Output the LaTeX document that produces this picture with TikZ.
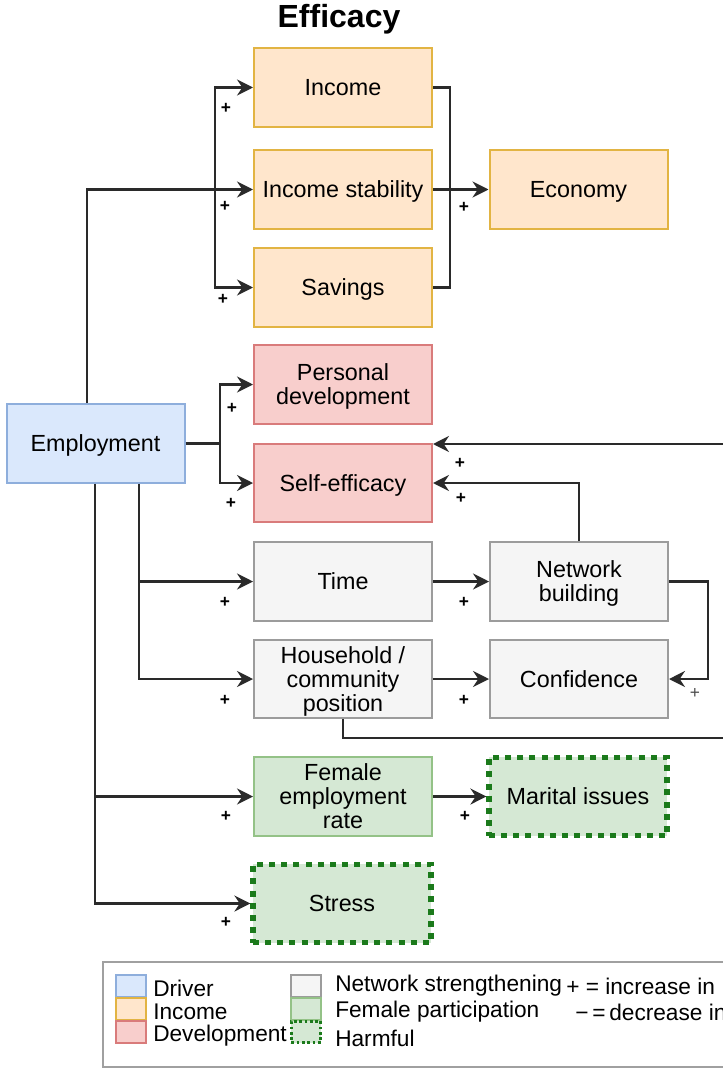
\documentclass[tikz,border=0pt]{standalone}
\usepackage{fontspec}
\setmainfont{Liberation Sans}
\usetikzlibrary{arrows.meta}
\definecolor{driverF}{HTML}{DAE8FC}\definecolor{driverD}{HTML}{8EAEDC}
\definecolor{incomeF}{HTML}{FFE6CC}\definecolor{incomeD}{HTML}{E2B443}
\definecolor{devF}{HTML}{F8CECC}\definecolor{devD}{HTML}{D97B7B}
\definecolor{netF}{HTML}{F5F5F5}\definecolor{netD}{HTML}{9C9C9C}
\definecolor{femF}{HTML}{D5E8D4}\definecolor{femD}{HTML}{94C287}
\definecolor{harmD}{HTML}{1B7A1B}
\definecolor{lineC}{HTML}{2A2A2A}
\definecolor{legD}{HTML}{A0A0A0}
\tikzset{
  box/.style={draw, line width=1.5pt, minimum width=133.5pt, minimum height=59pt,
    align=center, inner sep=2pt, text depth=-2pt, font=\fontsize{17.5}{18}\selectfont},
  driver/.style={box, fill=driverF, draw=driverD},
  income/.style={box, fill=incomeF, draw=incomeD},
  develop/.style={box, fill=devF, draw=devD},
  network/.style={box, fill=netF, draw=netD},
  female/.style={box, fill=femF, draw=femD},
  harmful/.style={box, fill=femF, draw=harmD, line width=3.9pt,
    dash pattern=on 4.5pt off 4.6pt},
  conn/.style={draw=lineC, line width=1.7pt},
  arrow/.style={conn, -{Stealth[length=12pt, width=12pt, inset=4pt]}},
  plus/.style={font=\bfseries\fontsize{13}{14}\selectfont, inner sep=0pt},
  swatch/.style={draw, line width=1.5pt, minimum width=22pt, minimum height=16pt, inner sep=0pt},
  legtext/.style={anchor=west, inner sep=0pt, font=\fontsize{17}{18}\selectfont},
}
\begin{document}
\begin{tikzpicture}[x=0.75pt, y=-0.75pt]
\useasboundingbox (0,0) rectangle (723,1070);
\clip (0,0) rectangle (723,1070);
\fill[white] (0,0) rectangle (723,1070);

% title
\node[font=\bfseries\fontsize{24}{28}\selectfont] (title) at (339,19) {Efficacy};

% boxes
\node[income] (income) at (343,87.5) {Income};
\node[income] (incstab) at (343,189.5) {Income stability};
\node[income] (savings) at (343,287.5) {Savings};
\node[income] (econ) at (578.5,189.5) {Economy};
\node[develop] (pdev) at (343,384.5) {Personal\\development};
\node[develop] (self) at (343,483) {Self-efficacy};
\node[driver] (emp) at (95.5,443.5) {Employment};
\node[network] (time) at (343,581.5) {Time};
\node[network] (net) at (579,581.5) {Network\\building};
\node[network] (house) at (343,679) {Household /\\community\\position};
\node[network] (conf) at (579,679) {Confidence};
\node[female] (femp) at (343,796.5) {Female\\employment\\rate};
\node[harmful] (mar) at (578,796.5) {Marital issues};
\node[harmful] (stress) at (342,903.5) {Stress};

% junctions and loop ends
\coordinate (j1) at (215,189.5);
\coordinate (j2) at (220,443.5);
\coordinate (j3) at (450,189.5);
\coordinate (loopR) at (735,444);
\coordinate (loopB) at (735,738);

% income group
\draw[arrow] ([xshift=-6.4pt]emp.north) |- (incstab.west);
\draw[arrow] (j1) |- (income.west);
\draw[arrow] (j1) |- (savings.west);
\draw[conn] (income.east) -| (j3) |- (savings.east);
\draw[arrow] (incstab.east) -- (econ.west);

% development group
\draw[conn] (emp.east) -- (j2);
\draw[arrow] (j2) |- (pdev.west);
\draw[arrow] (j2) |- (self.west);
\draw[arrow] (loopR) -- (self.east |- loopR);
\draw[arrow] (net.north) |- (self.east);

% network group
\draw[arrow] ([xshift=32.6pt]emp.south) |- (time.west);
\draw[arrow] ([xshift=32.6pt]emp.south) |- (house.west);
\draw[arrow] (time.east) -- (net.west);
\draw[arrow] (net.east) -| ([xshift=29pt]conf.east) -- (conf.east);
\draw[arrow] (house.east) -- (conf.west);
\draw[conn] (house.south) |- (loopB);

% female participation group
\draw[arrow] ([xshift=-0.4pt]emp.south) |- (stress.west);
\draw[arrow] ([xshift=-0.4pt]emp.south) |- (femp.west);
\draw[arrow] (femp.east) -- (mar.west);

% polarity labels
\node[plus] (p1) at (226,108) {+};
\node[plus] (p2) at (225,206) {+};
\node[plus] (p3) at (223,299) {+};
\node[plus] (p4) at (464,207) {+};
\node[plus] (p5) at (232,408) {+};
\node[plus] (p6) at (231,503) {+};
\node[plus] (p7) at (460,463) {+};
\node[plus] (p8) at (461,498) {+};
\node[plus] (p9) at (225,602) {+};
\node[plus] (p10) at (464,602) {+};
\node[plus] (p11) at (225,700) {+};
\node[plus] (p12) at (464,700) {+};
\node[plus, font=\fontsize{13}{14}\selectfont, text=black!70] (p13) at (695,693) {+};
\node[plus] (p14) at (226,816) {+};
\node[plus] (p15) at (465,816) {+};
\node[plus] (p16) at (226,922) {+};

% legend
\draw[legD, line width=1.5pt] (103,962) rectangle (745,1067);
\node[swatch, fill=driverF, draw=driverD] (s1) at (131,986) {};
\node[swatch, fill=incomeF, draw=incomeD] (s2) at (131,1009) {};
\node[swatch, fill=devF, draw=devD] (s3) at (131,1032) {};
\node[swatch, fill=netF, draw=netD] (s4) at (306,986) {};
\node[swatch, fill=femF, draw=femD] (s5) at (306,1009) {};
\node[swatch, fill=femF, draw=harmD, line width=2.2pt, dash pattern=on 2pt off 2pt] (s6) at (306,1032) {};
\node[legtext] (t1) at (153,988) {Driver};
\node[legtext] (t2) at (153,1012) {Income};
\node[legtext] (t3) at (153,1036) {Development};
\node[legtext] (t4) at (335,986) {Network strengthening};
\node[legtext] (t5) at (335,1012) {Female participation};
\node[legtext] (t6) at (335,1038) {Harmful};
\node[legtext] (t7) at (566,986) {+ = increase in};
\node[legtext] (t8) at (575,1012) {−\,=\,decrease in};
\end{tikzpicture}
\end{document}
